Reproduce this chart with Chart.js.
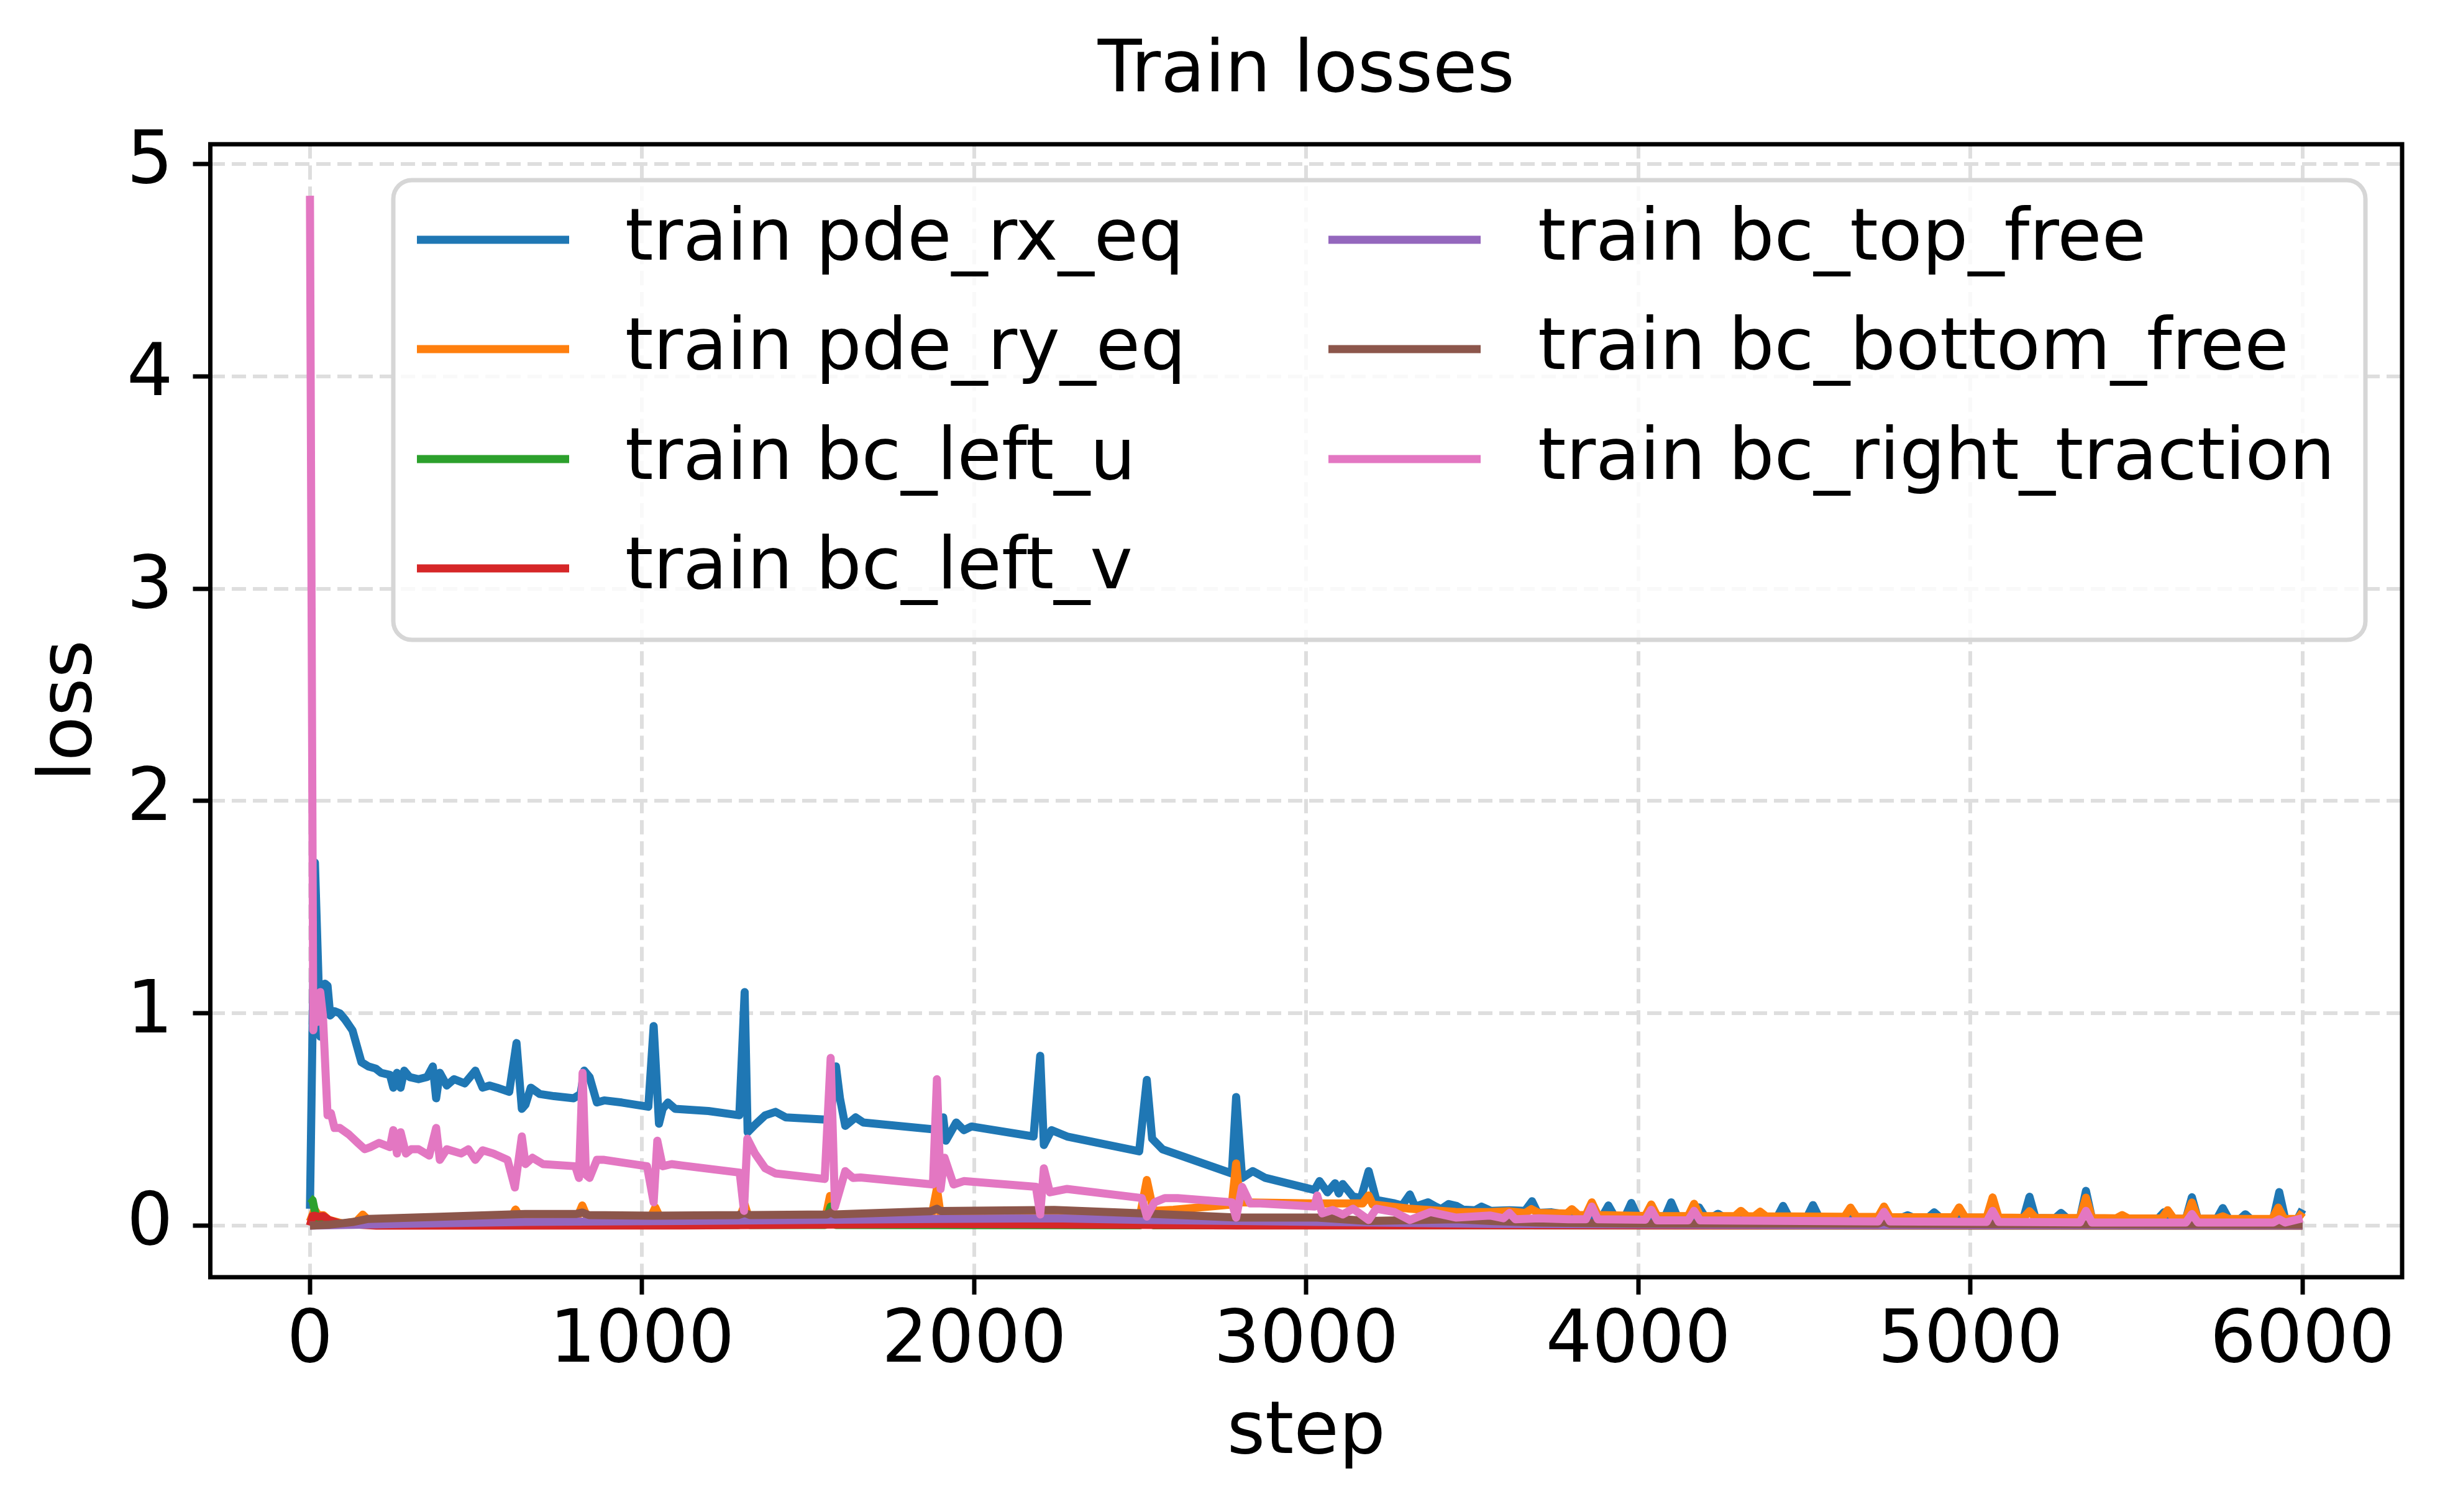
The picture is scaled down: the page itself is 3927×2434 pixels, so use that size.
<!DOCTYPE html>
<html>
<head>
<meta charset="utf-8">
<title>Train losses</title>
<script src="https://cdn.jsdelivr.net/npm/chart.js@4.4.1/dist/chart.umd.min.js"></script>
<style>
  html, body { margin: 0; padding: 0; background: #fff; }
  #wrap { width: 3927px; height: 2434px; }
</style>
</head>
<body>
<div id="wrap"><canvas id="loss-chart" width="3927" height="2434"></canvas></div>
<script>
// values (step, loss)
const rxSteps = [0, 15, 31, 45, 53, 61, 74, 90, 106, 128, 155, 176, 198, 214, 241, 251, 262, 273, 284, 300, 327, 353, 370, 380, 391, 412, 434, 466, 498, 520, 541, 563, 600, 622, 638, 649, 665, 692, 735, 794, 815, 826, 842, 864, 886, 939, 1019, 1035, 1051, 1062, 1078, 1100, 1200, 1293, 1309, 1318, 1340, 1371, 1402, 1433, 1550, 1566, 1584, 1596, 1612, 1643, 1666, 1868, 1895, 1907, 1915, 1946, 1969, 1992, 2179, 2199, 2210, 2233, 2280, 2497, 2520, 2536, 2567, 2613, 2776, 2789, 2807, 2839, 2877, 3025, 3040, 3064, 3087, 3098, 3110, 3141, 3165, 3188, 3211, 3266, 3289, 3312, 3328, 3367, 3390, 3406, 3429, 3453, 3472, 3509, 3528, 3556, 3612, 3659, 3680, 3697, 3739, 3790, 3830, 3892, 3910, 3928, 3961, 3979, 3997, 4081, 4099, 4117, 4165, 4183, 4201, 4225, 4240, 4255, 4418, 4436, 4454, 4508, 4526, 4544, 4795, 4811, 4827, 4873, 4891, 4909, 5160, 5178, 5196, 5255, 5273, 5291, 5330, 5348, 5366, 5565, 5583, 5601, 5649, 5667, 5685, 5742, 5760, 5778, 5812, 5828, 5844, 5912, 5930, 5948, 5985, 6000];
const rxLoss = [0.08, 1.71, 0.89, 1.14, 1.13, 0.99, 1.01, 1.0, 0.97, 0.92, 0.77, 0.75, 0.74, 0.72, 0.71, 0.65, 0.72, 0.65, 0.73, 0.70, 0.69, 0.70, 0.75, 0.60, 0.72, 0.66, 0.69, 0.67, 0.73, 0.65, 0.66, 0.65, 0.63, 0.86, 0.55, 0.57, 0.65, 0.62, 0.61, 0.60, 0.62, 0.73, 0.70, 0.58, 0.59, 0.58, 0.56, 0.94, 0.48, 0.55, 0.58, 0.55, 0.54, 0.52, 1.10, 0.44, 0.475, 0.52, 0.536, 0.51, 0.50, 0.49, 0.75, 0.60, 0.47, 0.51, 0.486, 0.455, 0.45, 0.51, 0.40, 0.486, 0.45, 0.467, 0.42, 0.80, 0.38, 0.45, 0.42, 0.35, 0.686, 0.41, 0.36, 0.335, 0.246, 0.606, 0.225, 0.257, 0.225, 0.168, 0.21, 0.157, 0.20, 0.152, 0.196, 0.137, 0.131, 0.257, 0.121, 0.105, 0.095, 0.147, 0.09, 0.11, 0.09, 0.078, 0.102, 0.093, 0.076, 0.073, 0.09, 0.07, 0.073, 0.07, 0.115, 0.06, 0.063, 0.05, 0.045, 0.045, 0.095, 0.045, 0.045, 0.107, 0.045, 0.044, 0.11, 0.044, 0.043, 0.086, 0.042, 0.042, 0.056, 0.042, 0.04, 0.093, 0.04, 0.04, 0.097, 0.04, 0.039, 0.049, 0.039, 0.038, 0.063, 0.038, 0.036, 0.136, 0.036, 0.035, 0.06, 0.035, 0.034, 0.164, 0.034, 0.033, 0.063, 0.033, 0.032, 0.134, 0.032, 0.032, 0.083, 0.032, 0.031, 0.054, 0.031, 0.031, 0.158, 0.031, 0.031, 0.076];

const rySteps = [0, 14, 25, 41, 57, 100, 140, 159, 175, 300, 600, 619, 640, 800, 820, 840, 1020, 1040, 1060, 1290, 1309, 1325, 1550, 1566, 1580, 1870, 1888, 1900, 2180, 2199, 2215, 2500, 2520, 2540, 2600, 2776, 2789, 2800, 3025, 3170, 3188, 3200, 3312, 3450, 3553, 3612, 3660, 3678, 3700, 3785, 3800, 3820, 3842, 3860, 3878, 4021, 4039, 4057, 4150, 4168, 4186, 4291, 4309, 4327, 4349, 4367, 4385, 4621, 4639, 4657, 4722, 4740, 4758, 4948, 4966, 4984, 5049, 5067, 5085, 5160, 5178, 5196, 5330, 5348, 5366, 5439, 5457, 5475, 5576, 5594, 5612, 5649, 5667, 5685, 5742, 5760, 5778, 5909, 5927, 5945, 5985, 6000];
const ryLoss = [0.02, 0.076, 0.05, 0.049, 0.027, 0.01, 0.02, 0.052, 0.027, 0.02, 0.02, 0.076, 0.02, 0.02, 0.095, 0.02, 0.02, 0.086, 0.02, 0.02, 0.10, 0.02, 0.02, 0.14, 0.03, 0.03, 0.175, 0.04, 0.04, 0.07, 0.04, 0.05, 0.215, 0.07, 0.075, 0.10, 0.293, 0.11, 0.105, 0.105, 0.142, 0.10, 0.08, 0.065, 0.064, 0.068, 0.06, 0.078, 0.06, 0.057, 0.078, 0.05, 0.05, 0.11, 0.05, 0.046, 0.10, 0.045, 0.045, 0.103, 0.045, 0.045, 0.07, 0.045, 0.044, 0.066, 0.044, 0.042, 0.085, 0.042, 0.041, 0.09, 0.04, 0.04, 0.086, 0.04, 0.039, 0.133, 0.038, 0.037, 0.068, 0.037, 0.036, 0.132, 0.036, 0.035, 0.05, 0.035, 0.034, 0.073, 0.034, 0.033, 0.109, 0.033, 0.033, 0.044, 0.032, 0.032, 0.085, 0.032, 0.032, 0.063];

const leftUSteps = [0, 8, 20, 60, 1290, 1309, 1325, 1550, 1568, 1585, 2500, 2520, 2540, 6000];
const leftULoss = [0.13, 0.12, 0.03, 0.005, 0.003, 0.03, 0.003, 0.003, 0.09, 0.003, 0.002, 0.03, 0.002, 0.0];

const leftVSteps = [0, 8, 14, 25, 40, 57, 90, 200, 1123, 1884, 2241, 2792, 3557, 6000];
const leftVLoss = [0.0, 0.045, 0.047, 0.042, 0.045, 0.027, 0.01, 0.0, 0.001, 0.008, 0.006, 0.001, 0.002, 0.0];

const topSteps = [0, 270, 648, 1123, 1884, 2241, 2505, 2792, 3557, 4500, 6000];
const topLoss = [0.0, 0.008, 0.018, 0.022, 0.032, 0.035, 0.027, 0.022, 0.008, 0.003, 0.002];

const bottomSteps = [0, 60, 132, 175, 390, 648, 800, 820, 840, 1034, 1290, 1309, 1325, 1557, 1568, 1580, 1870, 1888, 1900, 2241, 2505, 2792, 3033, 3188, 3450, 3557, 3700, 4000, 4722, 4740, 4758, 6000];
const bottomLoss = [0.0, 0.005, 0.018, 0.032, 0.042, 0.055, 0.055, 0.062, 0.05, 0.047, 0.05, 0.06, 0.05, 0.053, 0.062, 0.053, 0.068, 0.08, 0.069, 0.074, 0.058, 0.038, 0.038, 0.022, 0.03, 0.022, 0.015, 0.01, 0.009, 0.02, 0.008, 0.005];

const rightSteps = [0, 10, 17, 23, 31, 39, 45, 53, 63, 74, 90, 117, 144, 165, 182, 208, 241, 251, 262, 273, 289, 305, 327, 359, 380, 391, 412, 455, 477, 498, 520, 552, 595, 617, 638, 649, 670, 702, 799, 810, 821, 831, 842, 864, 886, 1015, 1035, 1046, 1062, 1089, 1123, 1294, 1307, 1317, 1340, 1371, 1402, 1550, 1568, 1581, 1612, 1635, 1658, 1876, 1888, 1899, 1911, 1938, 1969, 2186, 2199, 2210, 2228, 2280, 2505, 2520, 2543, 2574, 2613, 2776, 2789, 2807, 2831, 2862, 3025, 3033, 3048, 3079, 3110, 3141, 3188, 3211, 3266, 3312, 3374, 3452, 3553, 3594, 3612, 3630, 3700, 3790, 3842, 3860, 3878, 4021, 4039, 4057, 4150, 4168, 4186, 4722, 4740, 4758, 5049, 5067, 5085, 5330, 5348, 5366, 5649, 5667, 5685, 5912, 5930, 5948, 6000];
const rightLoss = [4.85, 0.92, 1.06, 0.96, 1.10, 0.99, 0.79, 0.52, 0.53, 0.46, 0.46, 0.43, 0.39, 0.36, 0.37, 0.39, 0.37, 0.45, 0.34, 0.44, 0.34, 0.36, 0.36, 0.33, 0.46, 0.31, 0.36, 0.34, 0.36, 0.31, 0.355, 0.34, 0.31, 0.18, 0.42, 0.29, 0.32, 0.29, 0.28, 0.225, 0.72, 0.24, 0.225, 0.31, 0.31, 0.28, 0.11, 0.40, 0.28, 0.29, 0.283, 0.25, 0.07, 0.41, 0.34, 0.27, 0.246, 0.22, 0.79, 0.09, 0.257, 0.225, 0.227, 0.194, 0.69, 0.173, 0.32, 0.194, 0.21, 0.183, 0.053, 0.27, 0.157, 0.173, 0.13, 0.043, 0.11, 0.13, 0.13, 0.11, 0.038, 0.183, 0.105, 0.105, 0.09, 0.142, 0.058, 0.074, 0.053, 0.08, 0.027, 0.08, 0.064, 0.027, 0.064, 0.038, 0.048, 0.035, 0.06, 0.03, 0.035, 0.03, 0.03, 0.09, 0.03, 0.028, 0.075, 0.025, 0.025, 0.07, 0.025, 0.02, 0.065, 0.02, 0.018, 0.07, 0.018, 0.016, 0.07, 0.015, 0.015, 0.055, 0.015, 0.015, 0.03, 0.015, 0.035];

const labels = ['train pde_rx_eq', 'train pde_ry_eq', 'train bc_left_u', 'train bc_left_v',
                'train bc_top_free', 'train bc_bottom_free', 'train bc_right_traction'];
const stepLists = [rxSteps, rySteps, leftUSteps, leftVSteps, topSteps, bottomSteps, rightSteps];
const lossLists = [rxLoss, ryLoss, leftULoss, leftVLoss, topLoss, bottomLoss, rightLoss];
const colors = ['#1f77b4', '#ff7f0e', '#2ca02c', '#d62728', '#9467bd', '#8c564b', '#e377c2'];

const xTicks = [0, 1000, 2000, 3000, 4000, 5000, 6000];
const yTicks = [0, 1, 2, 3, 4, 5];

const FONT = 'DejaVu Sans';
const LINE_W = 13;

const datasets = labels.map((label, i) => ({
  label: label,
  data: stepLists[i].map((s, j) => ({ x: s, y: lossLists[i][j] })),
  borderColor: colors[i],
  backgroundColor: colors[i],
  borderWidth: LINE_W,
  pointRadius: 0,
  tension: 0,
  fill: false,
  borderJoinStyle: 'round',
  borderCapStyle: 'butt',
  order: labels.length - i   // later series drawn on top, like matplotlib
}));

// black frame around the plot area
const framePlugin = {
  id: 'frame',
  afterDatasetsDraw(chart) {
    const { ctx, chartArea: a } = chart;
    ctx.save();
    ctx.strokeStyle = '#000';
    ctx.lineWidth = 7;
    ctx.strokeRect(a.left, a.top, a.right - a.left, a.bottom - a.top);
    ctx.restore();
  }
};

// two-column legend, filled column by column
const legendPlugin = {
  id: 'mplLegend',
  afterDraw(chart) {
    const ctx = chart.ctx;
    const box = { x: 633, y: 290, w: 3174, h: 740, r: 30 };
    const rowY = [386, 562, 739, 915];
    const cols = [{ hx: 671, tx: 1006 }, { hx: 2138, tx: 2475 }];
    const handleLen = 245;

    ctx.save();
    ctx.beginPath();
    ctx.roundRect(box.x, box.y, box.w, box.h, box.r);
    ctx.fillStyle = 'rgba(255,255,255,0.8)';
    ctx.fill();
    ctx.lineWidth = 7;
    ctx.strokeStyle = '#d6d6d6';
    ctx.stroke();

    ctx.font = '116px "' + FONT + '"';
    ctx.textBaseline = 'middle';
    ctx.textAlign = 'left';
    labels.forEach((label, i) => {
      const col = cols[i < 4 ? 0 : 1];
      const y = rowY[i < 4 ? i : i - 4];
      ctx.beginPath();
      ctx.moveTo(col.hx, y);
      ctx.lineTo(col.hx + handleLen, y);
      ctx.strokeStyle = colors[i];
      ctx.lineWidth = LINE_W;
      ctx.lineCap = 'butt';
      ctx.stroke();
      ctx.fillStyle = '#000';
      ctx.fillText(label, col.tx, y + 2);
    });
    ctx.restore();
  }
};

const gridStyle = {
  color: '#dedede',
  lineWidth: 6,
  drawTicks: true,
  tickLength: 28,
  tickColor: '#000',
  tickWidth: 7,
  tickBorderDash: []
};

new Chart(document.getElementById('loss-chart'), {
  type: 'line',
  data: { datasets: datasets },
  options: {
    responsive: false,
    animation: false,
    events: [],
    layout: { padding: { left: 0, right: 61, top: 0, bottom: 0 } },
    scales: {
      x: {
        type: 'linear',
        min: -300,
        max: 6300,
        afterBuildTicks: (scale) => { scale.ticks = xTicks.map(v => ({ value: v })); },
        afterFit: (scale) => { scale.height = 378; },
        grid: gridStyle,
        border: { display: false, dash: [23, 11] },
        ticks: {
          color: '#000',
          font: { family: FONT, size: 117 },
          padding: 7,
          maxRotation: 0,
          autoSkip: false,
          callback: (v) => String(v)
        },
        title: {
          display: true,
          text: 'step',
          color: '#000',
          font: { family: FONT, size: 118 },
          padding: { top: 0, bottom: 55 }
        }
      },
      y: {
        type: 'linear',
        min: -0.2425,
        max: 5.0925,
        afterBuildTicks: (scale) => { scale.ticks = yTicks.map(v => ({ value: v })); },
        afterFit: (scale) => { scale.width = 338.5; },
        grid: gridStyle,
        border: { display: false, dash: [23, 11] },
        ticks: {
          color: '#000',
          font: { family: FONT, size: 117 },
          padding: 32,
          callback: (v) => String(v)
        },
        title: {
          display: true,
          text: 'loss',
          color: '#000',
          font: { family: FONT, size: 118 },
          padding: { top: 45, bottom: 0 }
        }
      }
    },
    plugins: {
      legend: { display: false },
      tooltip: { enabled: false },
      title: {
        display: true,
        fullSize: false,
        text: 'Train losses',
        color: '#000',
        font: { family: FONT, size: 116, weight: 'normal' },
        padding: { top: 47, bottom: 46 }
      }
    }
  },
  plugins: [framePlugin, legendPlugin]
});
</script>
</body>
</html>
